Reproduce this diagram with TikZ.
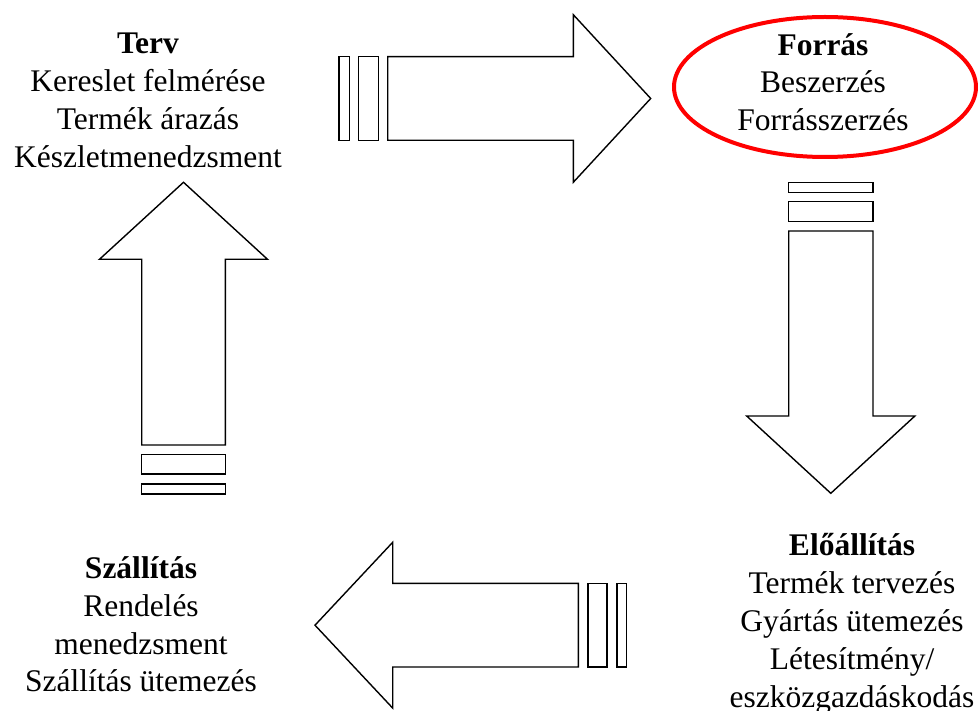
\documentclass[tikz,border=0pt]{standalone}
\usepackage{fontspec}
\setmainfont{Liberation Serif}
\begin{document}
\begin{tikzpicture}[x=1pt, y=-1pt]
    \tikzset{txt/.style={align=center, inner sep=0pt, anchor=north, font=\fontsize{31.5}{37.8}\selectfont},
             shaft/.style={draw, line width=1.4pt, line join=miter}}
    \useasboundingbox (0,0) rectangle (978,711);
    % the four blocks of text
    \node [txt] (terv) at (148,33) {\textbf{Terv}\\Kereslet felmérése\\Termék árazás\\Készletmenedzsment};
    \node [txt] (forras) at (823,33) {\textbf{Forrás}\\Beszerzés\\Forrásszerzés};
    \node [txt] (eloall) at (852,533.5) {\textbf{Előállítás}\\Termék tervezés\\Gyártás ütemezés\\Létesítmény/\\eszközgazdáskodás};
    \node [txt] (szall) at (141,556.5) {\textbf{Szállítás}\\Rendelés\\menedzsment\\Szállítás ütemezés};
    \draw [red, line width=4pt] (825,87) ellipse [x radius=151, y radius=70];
    % Terv -> Forrás
    \draw [shaft] (339,56.7) rectangle (349.3,140.3);
    \draw [shaft] (358.3,56.7) rectangle (378.7,140.3);
    \draw [shaft] (387.7,56.7) -- (573.3,56.7) -- (573.3,14.7) -- (650.7,98.5) -- (573.3,182.3) -- (573.3,140.3) -- (387.7,140.3) -- cycle;
    % Forrás -> Előállítás
    \draw [shaft] (788.7,182.3) rectangle (873,192.7);
    \draw [shaft] (788.7,201.7) rectangle (873,221.7);
    \draw [shaft] (788.7,231) -- (788.7,416) -- (746.7,416) -- (830.8,493.3) -- (914.9,416) -- (873,416) -- (873,231) -- cycle;
    % Előállítás -> Szállítás
    \draw [shaft] (617,583.3) rectangle (626.7,667);
    \draw [shaft] (588,583.3) rectangle (607,667);
    \draw [shaft] (578.3,583.3) -- (392.7,583.3) -- (392.7,542.3) -- (315,625.2) -- (392.7,708.1) -- (392.7,667) -- (578.3,667) -- cycle;
    % Szállítás -> Terv
    \draw [shaft] (141.7,484) rectangle (225.3,494);
    \draw [shaft] (141.7,454.3) rectangle (225.3,474);
    \draw [shaft] (141.7,445) -- (141.7,259.3) -- (99.5,259.3) -- (183.5,182.3) -- (267.5,259.3) -- (225.3,259.3) -- (225.3,445) -- cycle;
\end{tikzpicture}
\end{document}
